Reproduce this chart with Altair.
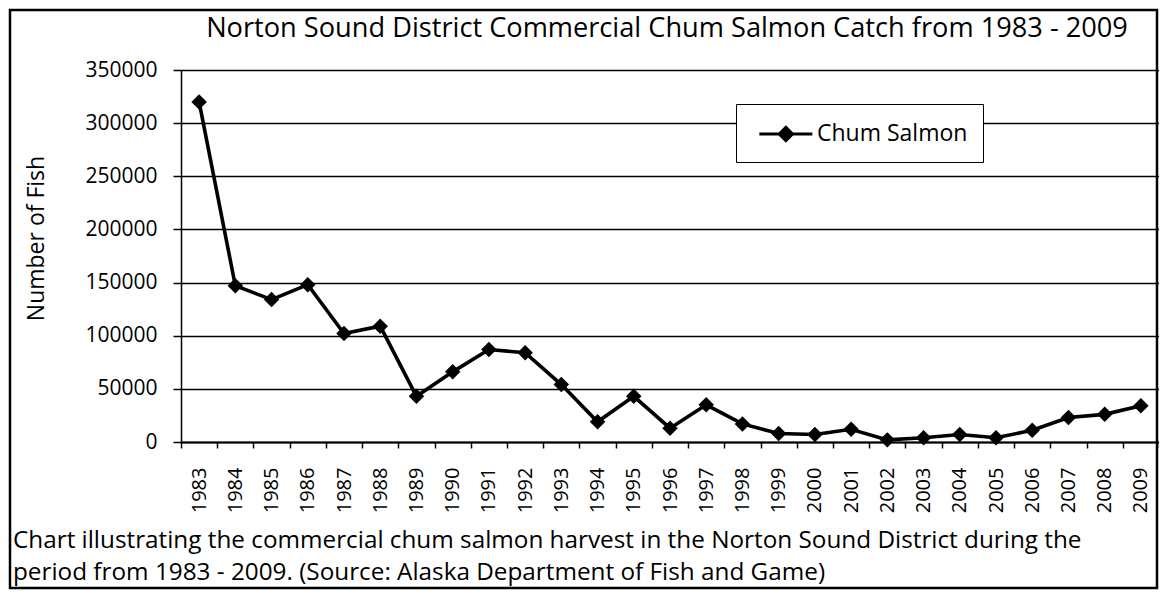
import altair as alt
import pandas as pd

years = ["1983", "1984", "1985", "1986", "1987", "1988", "1989", "1990", "1991",
         "1992", "1993", "1994", "1995", "1996", "1997", "1998", "1999", "2000",
         "2001", "2002", "2003", "2004", "2005", "2006", "2007", "2008", "2009"]
catch = [320000, 147000, 134000, 148000, 102000, 109000, 43000, 66000, 87000,
         84000, 54000, 19000, 43000, 13000, 35000, 17000, 8000, 7000,
         12000, 2000, 4000, 7000, 4000, 11000, 23000, 26000, 34000]
series_name = ["Chum Salmon"]
y_ticks = [0, 50000, 100000, 150000, 200000, 250000, 300000, 350000]
title_text = ["Norton Sound District Commercial Chum Salmon Catch from 1983 - 2009"]
caption_lines = [
    "Chart illustrating the commercial chum salmon harvest in the Norton Sound District during the",
    "period from 1983 - 2009.  (Source:  Alaska Department of Fish and Game)",
]

FONT = "Open Sans"
W, H = 978, 372
PAD = {"left": 173, "top": 62, "right": 0, "bottom": 148}

df = pd.DataFrame({"year": years, "catch": catch, "series": series_name * len(years)})

legend = alt.Legend(
    title=None,
    orient="none",
    legendX=555,
    legendY=34,
    strokeColor="black",
    fillColor="white",
    padding=15,
    symbolType="M-0.5,0L3.5,0M1.5,-0.5L2,0L1.5,0.5L1,0Z",
    symbolSize=702,
    symbolStrokeWidth=3,
    symbolFillColor="black",
    symbolStrokeColor="black",
    labelFont=FONT,
    labelFontSize=23,
    labelColor="black",
    labelOffset=36,
)
color = alt.Color("series:N", scale=alt.Scale(range=["black"]), legend=legend)

x = alt.X(
    "year:O",
    sort=years,
    scale=alt.Scale(type="band", paddingInner=0, paddingOuter=0),
    axis=alt.Axis(
        title=None,
        labelAngle=-90,
        labelAlign="right",
        labelBaseline="middle",
        labelFont=FONT,
        labelFontSize=20,
        labelColor="black",
        labelPadding=19,
        tickSize=6,
        tickColor="black",
        tickWidth=1.5,
        tickBand="extent",
        domainColor="black",
        domainWidth=1.8,
        grid=False,
    ),
)
y = alt.Y(
    "catch:Q",
    scale=alt.Scale(domain=[0, 350000], nice=False),
    axis=alt.Axis(
        values=y_ticks,
        format="d",
        grid=True,
        gridColor="black",
        gridWidth=1.5,
        gridOpacity=1,
        domainColor="black",
        domainWidth=1.5,
        tickColor="black",
        tickSize=8,
        tickWidth=1.5,
        labelFont=FONT,
        labelFontSize=21,
        labelColor="black",
        labelPadding=16,
        title="Number of Fish",
        titleFont=FONT,
        titleFontSize=23,
        titleFontWeight="normal",
        titleColor="black",
        titleX=-138,
        titleY=168,
        titleAngle=-90,
        titleAlign="center",
        titleBaseline="alphabetic",
    ),
)

base = alt.Chart(df)
line = base.mark_line(strokeWidth=3.6, color="black").encode(x=x, y=y, color=color)
points = base.mark_point(shape="diamond", filled=True, size=240, opacity=1).encode(
    x=x, y=y, color=color
)

title_df = pd.DataFrame({"t": title_text})
title = alt.Chart(title_df).mark_text(
    font=FONT, fontSize=27.2, color="black", align="center", baseline="alphabetic"
).encode(text="t:N", x=alt.value(486), y=alt.value(-33))

cap1 = alt.Chart(pd.DataFrame({"t": [caption_lines[0]]})).mark_text(
    font=FONT, fontSize=24.3, color="black", align="left", baseline="alphabetic"
).encode(text="t:N", x=alt.value(-168), y=alt.value(478))
cap2 = alt.Chart(pd.DataFrame({"t": [caption_lines[1]]})).mark_text(
    font=FONT, fontSize=24.3, color="black", align="left", baseline="alphabetic"
).encode(text="t:N", x=alt.value(-168), y=alt.value(510))

border = alt.Chart(pd.DataFrame({"b": [1]})).mark_rect(
    fillOpacity=0, stroke="black", strokeWidth=2.5
).encode(
    x=alt.value(-171),
    x2=alt.value(W - 2),
    y=alt.value(-60),
    y2=alt.value(H + PAD["bottom"] - 2),
)

chart = alt.layer(line, points, title, cap1, cap2, border).properties(
    width=W,
    height=H,
    autosize=alt.AutoSizeParams(type="none"),
    padding=PAD,
    background="white",
).configure_view(stroke=None)

chart.save("out.html", embed_options={"renderer": "svg", "actions": False})
